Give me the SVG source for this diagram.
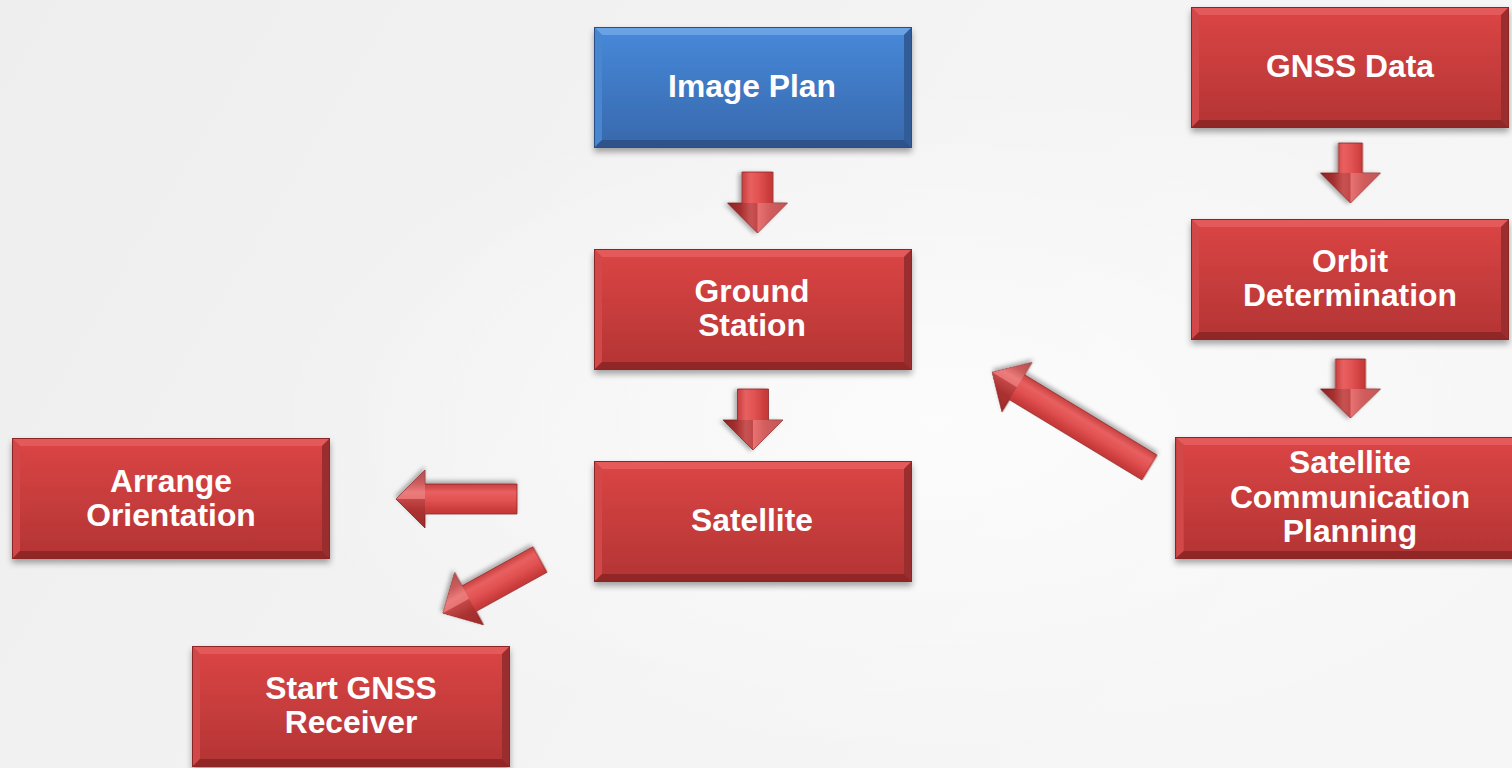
<svg xmlns="http://www.w3.org/2000/svg" xmlns:xlink="http://www.w3.org/1999/xlink" width="1512" height="768" viewBox="0 0 1512 768">
<style>
.lbl{font-family:"Liberation Sans",Arial,sans-serif;font-weight:bold;font-size:31.8px;fill:#ffffff;text-anchor:middle}
.arw{fill:url(#arrowGrad);stroke:#8e2626;stroke-width:0.8;filter:url(#ashadow)}
.hl{fill:#ffffff;opacity:0.18}
.dk{fill:#000000;opacity:0.14}
</style>
<defs>
<linearGradient id="bg" x1="0" y1="0" x2="1" y2="0.3">
<stop offset="0" stop-color="#eeeeee"/>
<stop offset="0.55" stop-color="#f3f3f3"/>
<stop offset="1" stop-color="#f6f6f6"/>
</linearGradient>
<radialGradient id="glow" cx="0.62" cy="0.55" r="0.45">
<stop offset="0" stop-color="#ffffff" stop-opacity="0.7"/>
<stop offset="1" stop-color="#ffffff" stop-opacity="0"/>
</radialGradient>
<linearGradient id="redFace" x1="0" y1="0" x2="0" y2="1">
<stop offset="0" stop-color="#dc4545"/>
<stop offset="1" stop-color="#b33434"/>
</linearGradient>
<linearGradient id="blueFace" x1="0" y1="0" x2="0" y2="1">
<stop offset="0" stop-color="#4789da"/>
<stop offset="1" stop-color="#3868ac"/>
</linearGradient>
<linearGradient id="arrowGrad" x1="0" y1="0" x2="0" y2="1">
<stop offset="0" stop-color="#b83232"/>
<stop offset="0.3" stop-color="#c93a3a"/>
<stop offset="0.48" stop-color="#e25252"/>
<stop offset="0.62" stop-color="#e86060"/>
<stop offset="0.78" stop-color="#c23838"/>
<stop offset="1" stop-color="#9e2a2a"/>
</linearGradient>
<filter id="shadow" x="-5%" y="-5%" width="110%" height="120%">
<feDropShadow dx="0" dy="4" stdDeviation="3" flood-color="#000000" flood-opacity="0.35"/>
</filter>
<filter id="ashadow" x="-20%" y="-20%" width="140%" height="140%">
<feDropShadow dx="1" dy="3" stdDeviation="2" flood-color="#000000" flood-opacity="0.3"/>
</filter>
<symbol id="redbox" viewBox="0 0 318 121" preserveAspectRatio="none">
<rect x="0" y="0" width="318" height="121" fill="url(#redFace)"/>
<polygon points="0,0 318,0 310,8 8,8" fill="#e45a5a"/>
<polygon points="0,0 8,8 8,113 0,121" fill="#d24646"/>
<polygon points="318,0 318,121 310,113 310,8" fill="#9a2d2d"/>
<polygon points="0,121 8,113 310,113 318,121" fill="#902828"/>
<rect x="0.5" y="0.5" width="317" height="120" fill="none" stroke="#8a2626" stroke-width="1"/>
</symbol>
<symbol id="bluebox" viewBox="0 0 318 121" preserveAspectRatio="none">
<rect x="0" y="0" width="318" height="121" fill="url(#blueFace)"/>
<polygon points="0,0 318,0 310,8 8,8" fill="#6aa2e6"/>
<polygon points="0,0 8,8 8,113 0,121" fill="#4a86d0"/>
<polygon points="318,0 318,121 310,113 310,8" fill="#305c98"/>
<polygon points="0,121 8,113 310,113 318,121" fill="#2d528a"/>
<rect x="0.5" y="0.5" width="317" height="120" fill="none" stroke="#2b5088" stroke-width="1"/>
</symbol>
</defs>

<rect x="0" y="0" width="1512" height="768" fill="url(#bg)"/>
<rect x="0" y="0" width="1512" height="768" fill="url(#glow)"/>

<g id="connectors">
<g transform="translate(757.5,172) rotate(90)">
<path class="arw" d="M0,-15.5 L31,-15.5 L31,-30 L61,0 L31,30 L31,15.5 L0,15.5 Z"/>
<path class="hl" d="M31,-30 L61,0 L31,0 Z"/>
<path class="dk" d="M31,30 L61,0 L31,0 Z"/>
</g>
<g transform="translate(753,389) rotate(90)">
<path class="arw" d="M0,-15.5 L31,-15.5 L31,-30 L61,0 L31,30 L31,15.5 L0,15.5 Z"/>
<path class="hl" d="M31,-30 L61,0 L31,0 Z"/>
<path class="dk" d="M31,30 L61,0 L31,0 Z"/>
</g>
<g transform="translate(1350.5,143) rotate(90)">
<path class="arw" d="M0,-12 L30,-12 L30,-30 L60,0 L30,30 L30,12 L0,12 Z"/>
<path class="hl" d="M30,-30 L60,0 L30,0 Z"/>
<path class="dk" d="M30,30 L60,0 L30,0 Z"/>
</g>
<g transform="translate(1350.5,359) rotate(90)">
<path class="arw" d="M0,-15 L30,-15 L30,-30 L59,0 L30,30 L30,15 L0,15 Z"/>
<path class="hl" d="M30,-30 L59,0 L30,0 Z"/>
<path class="dk" d="M30,30 L59,0 L30,0 Z"/>
</g>
<g transform="translate(517,499) rotate(180)">
<path class="arw" d="M0,-15 L92,-15 L92,-29 L121,0 L92,29 L92,15 L0,15 Z"/>
<path class="dk" d="M92,-29 L121,0 L92,0 Z"/>
<path class="hl" d="M92,29 L121,0 L92,0 Z"/>
</g>
<g transform="translate(540,559.5) rotate(151.1)">
<path class="arw" d="M0,-14.5 L81,-14.5 L81,-30 L111,0 L81,30 L81,14.5 L0,14.5 Z"/>
<path class="dk" d="M81,-30 L111,0 L81,0 Z"/>
<path class="hl" d="M81,30 L111,0 L81,0 Z"/>
</g>
<g transform="translate(1149.5,467.5) rotate(211.2)">
<path class="arw" d="M0,-14.5 L155,-14.5 L155,-29 L184,0 L155,29 L155,14.5 L0,14.5 Z"/>
<path class="dk" d="M155,-29 L184,0 L155,0 Z"/>
<path class="hl" d="M155,29 L184,0 L155,0 Z"/>
</g>
</g>

<g id="image-plan">
<use href="#bluebox" xlink:href="#bluebox" x="594" y="27" width="318" height="121" filter="url(#shadow)"/>
<text class="lbl" x="752" y="97">Image Plan</text>
</g>

<g id="ground-station">
<use href="#redbox" xlink:href="#redbox" x="594" y="249" width="318" height="121" filter="url(#shadow)"/>
<text class="lbl" x="752" y="302">Ground</text>
<text class="lbl" x="752" y="336">Station</text>
</g>

<g id="satellite">
<use href="#redbox" xlink:href="#redbox" x="594" y="461" width="318" height="121" filter="url(#shadow)"/>
<text class="lbl" x="752" y="531">Satellite</text>
</g>

<g id="arrange-orientation">
<use href="#redbox" xlink:href="#redbox" x="12" y="438" width="318" height="121" filter="url(#shadow)"/>
<text class="lbl" x="171" y="492">Arrange</text>
<text class="lbl" x="171" y="526">Orientation</text>
</g>

<g id="start-gnss-receiver">
<use href="#redbox" xlink:href="#redbox" x="192" y="646" width="318" height="121" filter="url(#shadow)"/>
<text class="lbl" x="351" y="699">Start GNSS</text>
<text class="lbl" x="351" y="733">Receiver</text>
</g>

<g id="gnss-data">
<use href="#redbox" xlink:href="#redbox" x="1191" y="7" width="318" height="121" filter="url(#shadow)"/>
<text class="lbl" x="1350" y="77">GNSS Data</text>
</g>

<g id="orbit-determination">
<use href="#redbox" xlink:href="#redbox" x="1191" y="219" width="318" height="121" filter="url(#shadow)"/>
<text class="lbl" x="1350" y="272">Orbit</text>
<text class="lbl" x="1350" y="306">Determination</text>
</g>

<g id="satellite-communication-planning">
<use href="#redbox" xlink:href="#redbox" x="1175" y="437" width="350" height="122" filter="url(#shadow)"/>
<text class="lbl" x="1350" y="473">Satellite</text>
<text class="lbl" x="1350" y="508">Communication</text>
<text class="lbl" x="1350" y="542">Planning</text>
</g>
</svg>
